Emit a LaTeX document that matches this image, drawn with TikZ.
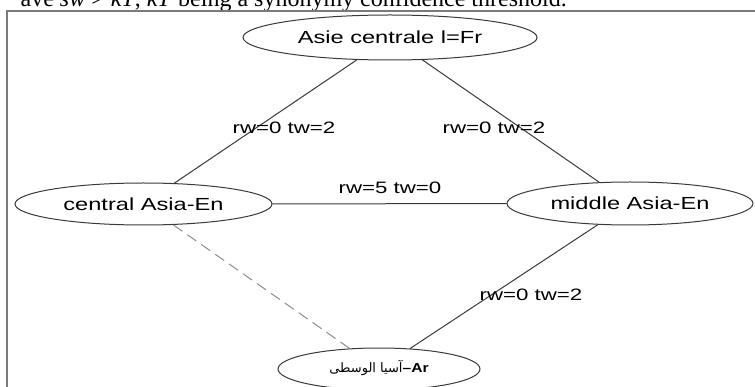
\documentclass[tikz,border=0pt]{standalone}
\usepackage{fontspec}
\usetikzlibrary{shapes.geometric}
\setmainfont{Liberation Serif}
\newfontfamily\labfont[FakeStretch=1.35]{Liberation Sans}
\newfontfamily\arabicfont[Script=Arabic]{DejaVu Sans}
\newfontfamily\arlatin[FakeStretch=1.2]{Liberation Sans}
\TeXXeTstate=1
\definecolor{edgegray}{HTML}{3A3A3A}
\definecolor{framegray}{HTML}{7A7A7A}
\definecolor{dashgray}{HTML}{8C8C8C}
\tikzset{
  graphnode/.style={ellipse, draw=edgegray, line width=1pt, inner sep=0pt,
    font=\labfont\fontsize{17.5}{20}\selectfont, text=black},
  edgelabel/.style={inner sep=0pt, font=\labfont\fontsize{16.5}{19}\selectfont, text=black},
  edgeline/.style={draw=edgegray, line width=1pt},
  dashline/.style={draw=dashgray, line width=1pt, dash pattern=on 11pt off 6pt},
}
\begin{document}
\begin{tikzpicture}[x=1pt,y=-1pt]
\useasboundingbox (0,0) rectangle (755,387);
\clip (0,0) rectangle (755,387);
\fill[white] (0,0) rectangle (755,387);
% caption, cut off at top
\node[anchor=base east, inner sep=0pt, font=\fontsize{24}{28}\selectfont] (caption) at (567,7)
  {ave \textit{sw} > \textit{kT}, \textit{kT} being a synonymy confidence threshold.};
% frame
\coordinate (fbl) at (7,387);
\coordinate (ftl) at (7,11);
\coordinate (ftr) at (755,11);
\draw[framegray, line width=1.2pt] (fbl) -- (ftl) -- (ftr);
% nodes
\node[graphnode, minimum width=294pt, minimum height=45pt] (fr) at (390,37.5) {Asie centrale l=Fr};
\node[graphnode, minimum width=257pt, minimum height=42pt] (central) at (143.5,204) {central Asia-En};
\node[graphnode, minimum width=246pt, minimum height=43pt] (middle) at (630,203.5) {middle Asia-En};
\node[graphnode, minimum width=202pt, minimum height=42pt] (ar) at (379,369)
  {\raisebox{6pt}{\fontsize{13}{15}\selectfont{\arabicfont\beginR آسيا الوسطى\endR}\arlatin\bfseries{}–Ar}};
% edges
\draw[edgeline] (fr) -- (central);
\draw[edgeline] (fr) -- (middle);
\draw[edgeline] (central) -- (middle);
\draw[edgeline] (middle) -- (ar);
\draw[dashline] (central) -- (ar);
% labels
\node[edgelabel] (l1) at (284,128) {rw=0 tw=2};
\node[edgelabel] (l2) at (494,128) {rw=0 tw=2};
\node[edgelabel] (l3) at (390,188) {rw=5 tw=0};
\node[edgelabel] (l4) at (531,295) {rw=0 tw=2};
\end{tikzpicture}
\end{document}
